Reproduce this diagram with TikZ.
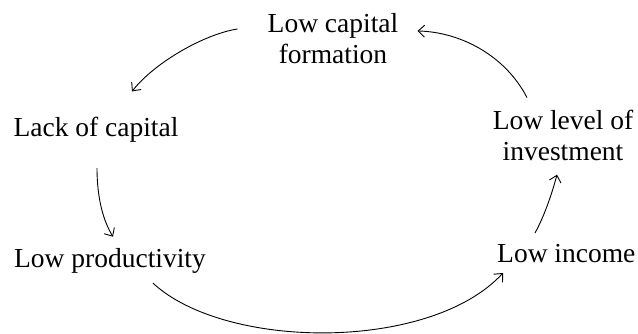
\documentclass[tikz,border=0pt]{standalone}
\usepackage{fontspec}
\setmainfont{Liberation Serif}
\usetikzlibrary{arrows.meta}
\tikzset{
  lbl/.style={font=\fontsize{27.5}{31}\selectfont, inner sep=0pt, align=center},
  arr/.style={line width=0.9pt, -{Straight Barb[length=6.5pt,width=12pt]}}
}
\begin{document}
\begin{tikzpicture}[x=1pt,y=1pt,yscale=-1,xscale=1]
\useasboundingbox (0,0) rectangle (638,334);
%Text Nodes
\node [lbl, anchor=north] (lcf) at (333,13.6) {Low capital\\formation};
\node [lbl, anchor=base] (lack) at (96,137) {Lack of capital};
\node [lbl, anchor=base] (prod) at (110,268) {Low productivity};
\node [lbl, anchor=base west] (inc) at (497,262) {Low income};
\node [lbl, anchor=north] (lli) at (563,109.6) {Low level of\\investment};
%Curve Lines
\draw [arr] ([shift={(-30,-10)}]lcf.west) .. controls (205,34) and (155,62) .. ([shift={(36,-26)}]lack.north);
%Curve Lines
\draw [arr] ([shift={(1,25)}]lack.south) .. controls (97,200) and (104,222) .. ([shift={(3,-12)}]prod.north);
%Curve Lines
\draw [arr] ([shift={(43,9)}]prod.south) .. controls (225,350) and (430,352) .. ([shift={(6,11)}]inc.base west);
%Curve Lines
\draw [arr] ([shift={(38,-29)}]inc.base west) .. controls (545,215) and (553,190) .. ([shift={(-6,14)}]lli.south);
%Curve Lines
\draw [arr] ([shift={(-36,-12)}]lli.north) .. controls (505,55) and (460,32) .. ([shift={(19,-8)}]lcf.east);
\end{tikzpicture}
\end{document}
